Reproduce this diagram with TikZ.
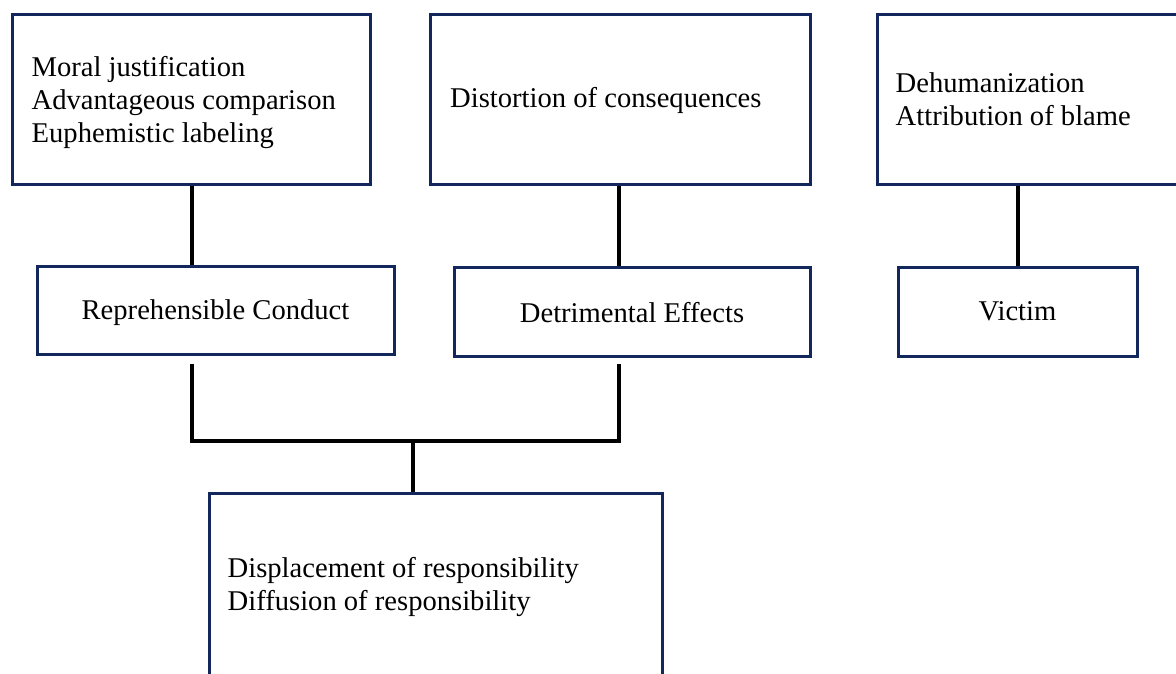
\documentclass[tikz,border=0pt]{standalone}
\usepackage{fontspec}
\setmainfont{Liberation Serif}
\usetikzlibrary{backgrounds}
\definecolor{navy}{RGB}{18,40,92}
\tikzset{
  box/.style={draw=navy, line width=3pt, rectangle, inner sep=0pt},
  txt/.style={inner sep=0pt, align=left, font=\fontsize{28.6}{33}\selectfont},
  conn/.style={draw=black, line width=4pt}
}
\begin{document}
\begin{tikzpicture}[x=1pt,y=-1pt]
\useasboundingbox (0,0) rectangle (1176,673);
\clip (0,0) rectangle (1176,673);
% boxes
\node[box, minimum width=358pt, minimum height=170pt] (b1) at (191,99) {};
\node[box, minimum width=380pt, minimum height=170pt] (b2) at (620.5,99) {};
\node[box, minimum width=323pt, minimum height=170pt] (b3) at (1038.5,99) {};
\node[box, minimum width=357pt, minimum height=88pt] (b4) at (215.5,310) {};
\node[box, minimum width=356pt, minimum height=89pt] (b5) at (632,311.5) {};
\node[box, minimum width=239pt, minimum height=89pt] (b6) at (1017.5,311.5) {};
\node[box, minimum width=453pt, minimum height=187pt] (b7) at (435.5,586.5) {};
% texts
\node[txt, anchor=base west] (t1a) at ([xshift=21pt]b1.west |- 0,76) {Moral justification};
\node[txt, anchor=base west] (t1b) at ([xshift=21pt]b1.west |- 0,109) {Advantageous comparison};
\node[txt, anchor=base west] (t1c) at ([xshift=21pt]b1.west |- 0,142) {Euphemistic labeling};
\node[txt, anchor=base west] (t2) at ([xshift=21pt]b2.west |- 0,107) {Distortion of consequences};
\node[txt, anchor=base west] (t3a) at ([xshift=20pt]b3.west |- 0,92) {Dehumanization};
\node[txt, anchor=base west] (t3b) at ([xshift=20pt]b3.west |- 0,125) {Attribution of blame};
\node[txt, anchor=base] (t4) at (b4.center |- 0,319) {Reprehensible Conduct};
\node[txt, anchor=base] (t5) at (b5.center |- 0,322) {Detrimental Effects};
\node[txt, anchor=base] (t6) at (b6.center |- 0,320) {Victim};
\node[txt, anchor=base west] (t7a) at ([xshift=20pt]b7.west |- 0,577) {Displacement of responsibility};
\node[txt, anchor=base west] (t7b) at ([xshift=20pt]b7.west |- 0,610) {Diffusion of responsibility};
% connectors
\coordinate (jl) at (192,441);
\coordinate (jr) at (619,441);
\coordinate (jm) at (413,441);
\begin{scope}[on background layer]
\draw[conn] ([xshift=1pt]b1.south) -- ([xshift=1pt]b1.south |- b4.north);
\draw[conn] ([xshift=-1.5pt]b2.south) -- ([xshift=-1.5pt]b2.south |- b5.north);
\draw[conn] (b6.north |- b3.south) -- (b6.north);
\draw[conn] ([yshift=-8pt]b4.south -| jl) -- (jl) -- (jr) -- ([yshift=-6pt]b5.south -| jr);
\draw[conn] (jm) -- (jm |- b7.north);
\end{scope}
\end{tikzpicture}
\end{document}
